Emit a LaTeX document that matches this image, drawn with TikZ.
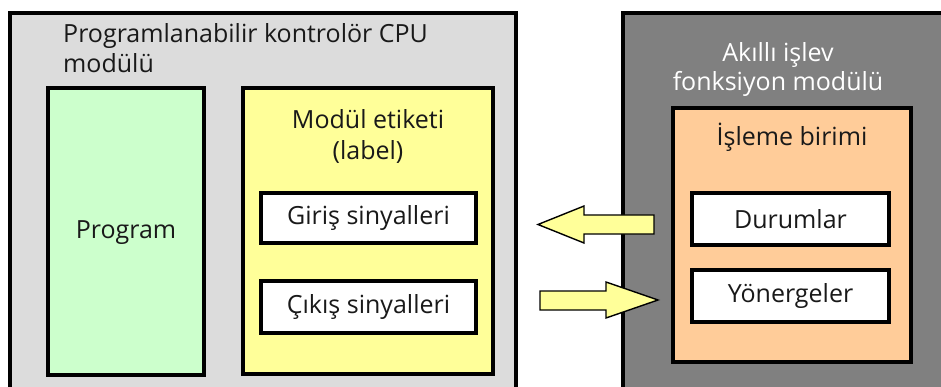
\documentclass[tikz,border=0pt]{standalone}
\usepackage{fontspec}
\setmainfont{Open Sans}
\begin{document}
\begin{tikzpicture}[x=1pt,y=-1pt,
  box/.style={draw=black, line width=3.2pt},
  txt/.style={font=\fontsize{25}{31}\selectfont, text=black!90, inner sep=0pt},
  wtxt/.style={font=\fontsize{25}{29}\selectfont, text=white, inner sep=0pt, align=center},
  sigbox/.style={box, fill=white},
  blockarrow/.style={draw=black, line width=1.4pt, fill=arrowyellow, line join=miter}]
\definecolor{cpugray}{HTML}{DCDCDC}
\definecolor{progreen}{HTML}{CCFFCC}
\definecolor{labelyellow}{HTML}{FFFF99}
\definecolor{fngray}{HTML}{808080}
\definecolor{unitorange}{HTML}{FFCC99}
\definecolor{arrowyellow}{HTML}{FFFF99}
\useasboundingbox (0,0) rectangle (941,387);
\clip (0,0) rectangle (941,387);

% CPU module (left)
\draw[box, fill=cpugray] (10,13) rectangle (516,400);
\node[txt, anchor=base west] (cputitle) at (63,43) {Programlanabilir kontrolör CPU};
\node[txt, anchor=base west] (cputitle2) at (63,73) {modülü};

% Program area
\draw[box, fill=progreen] (48,88) rectangle (204,375);
\node[txt] (prog) at (126,233) {Program};

% Module label area
\draw[box, fill=labelyellow] (243,88) rectangle (493,374);
\node[txt, align=center] (lbl) at (368,136) {Modül etiketi\\(label)};
\draw[sigbox] (261,193) rectangle (476,243);
\node[txt] (giris) at (368.5,218) {Giriş sinyalleri};
\draw[sigbox] (261,281) rectangle (476,333);
\node[txt] (cikis) at (368.5,307) {Çıkış sinyalleri};

% Intelligent function module (right)
\draw[box, fill=fngray] (623,13) rectangle (960,400);
\node[wtxt] (fntitle) at (778,70) {Akıllı işlev\\fonksiyon modülü};
\draw[box, fill=unitorange] (673,108) rectangle (911,362);
\node[txt] (unit) at (792,137) {İşleme birimi};
\draw[sigbox] (692,193) rectangle (889,245);
\node[txt] (dur) at (790.5,219) {Durumlar};
\draw[sigbox] (692,270) rectangle (889,322);
\node[txt] (yon) at (790.5,296) {Yönergeler};

% Block arrows between the modules
\draw[blockarrow] (654,215) -- (584,215) -- (584,206) -- (538,224.5)
  -- (584,243) -- (584,234) -- (654,234) -- cycle;
\draw[blockarrow] (540,291) -- (606,291) -- (606,282) -- (658,300)
  -- (606,318) -- (606,310) -- (540,310) -- cycle;
\end{tikzpicture}
\end{document}
